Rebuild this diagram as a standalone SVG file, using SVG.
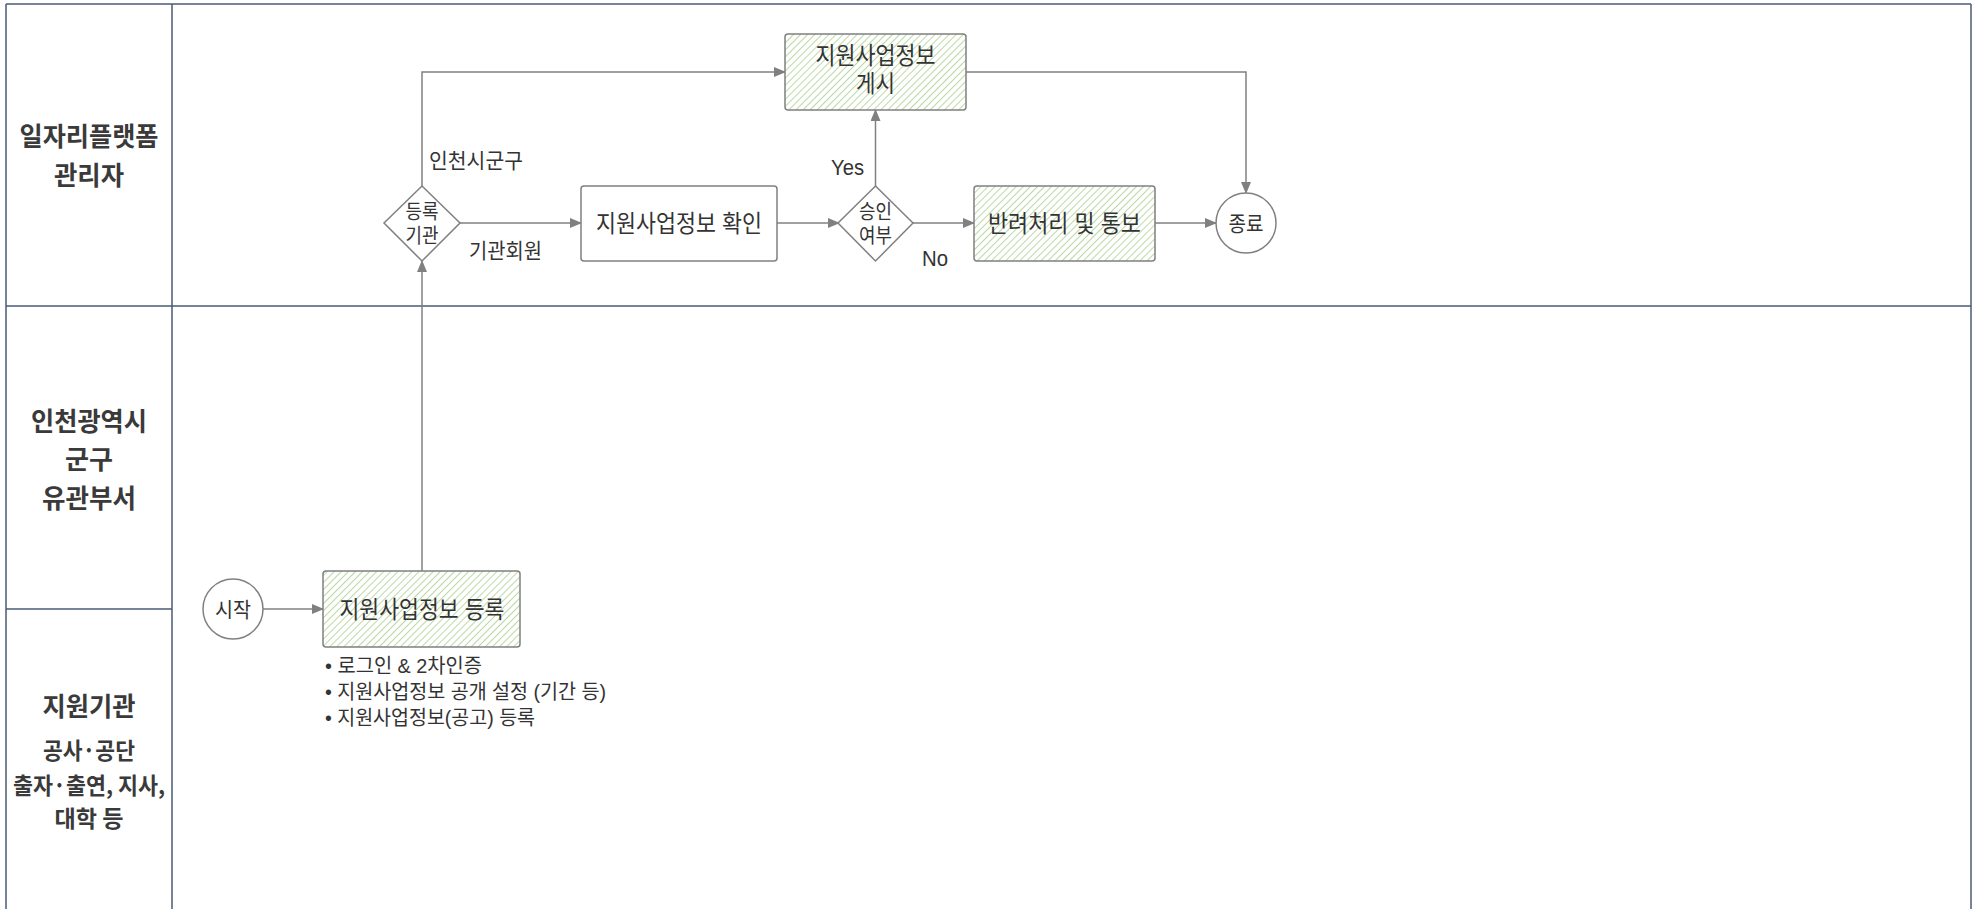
<svg xmlns="http://www.w3.org/2000/svg" width="1977" height="909" viewBox="0 0 1977 909">
<style>
.lane{stroke:#4a5a74;stroke-width:1.5;fill:none}
.hdr{font-family:"Noto Sans CJK KR","Noto Sans",sans-serif;font-weight:bold;fill:#3a3a3a;text-anchor:middle}
.box{stroke:#808080;stroke-width:1.5}
.plain{fill:#ffffff}
.green{fill:url(#hatch)}
.txt{font-family:"Liberation Sans","Noto Sans CJK KR",sans-serif;fill:#333333;text-anchor:middle}
.lbl{font-family:"Liberation Sans","Noto Sans CJK KR",sans-serif;fill:#333333}
.conn{stroke:#808080;stroke-width:1.5;fill:none}
</style>
<defs>
<pattern id="hatch" patternUnits="userSpaceOnUse" width="5" height="5" patternTransform="rotate(45)">
<rect width="5" height="5" fill="#ffffff"/>
<line x1="0" y1="0" x2="0" y2="5" stroke="#a8d08d" stroke-width="1.6"/>
</pattern>
<marker id="arr" markerUnits="userSpaceOnUse" markerWidth="12" markerHeight="10" refX="11" refY="5" orient="auto">
<path d="M0,0 L12,5 L0,10 Z" fill="#808080"/>
</marker>
</defs>
<rect width="1977" height="909" fill="#ffffff"/>
<g id="lanes">
<line class="lane" x1="6" y1="4" x2="1971" y2="4"/>
<line class="lane" x1="6" y1="4" x2="6" y2="909"/>
<line class="lane" x1="1971" y1="4" x2="1971" y2="909"/>
<line class="lane" x1="172" y1="4" x2="172" y2="909"/>
<line class="lane" x1="6" y1="306" x2="1971" y2="306"/>
<line class="lane" x1="6" y1="609" x2="172" y2="609"/>
</g>
<g id="lane-admin">
<text class="hdr" x="89" y="146" font-size="26" textLength="139" lengthAdjust="spacingAndGlyphs">일자리플랫폼</text>
<text class="hdr" x="89" y="185" font-size="26" textLength="70" lengthAdjust="spacingAndGlyphs">관리자</text>
</g>
<g id="lane-city">
<text class="hdr" x="89" y="431" font-size="26" textLength="116" lengthAdjust="spacingAndGlyphs">인천광역시</text>
<text class="hdr" x="89" y="469" font-size="26" textLength="48" lengthAdjust="spacingAndGlyphs">군구</text>
<text class="hdr" x="89" y="508" font-size="26" textLength="94" lengthAdjust="spacingAndGlyphs">유관부서</text>
</g>
<g id="lane-org">
<text class="hdr" x="89" y="716" font-size="26" textLength="93" lengthAdjust="spacingAndGlyphs">지원기관</text>
<text class="hdr" x="89" y="759" font-size="23" textLength="92" lengthAdjust="spacingAndGlyphs">공사·공단</text>
<text class="hdr" x="89" y="794" font-size="23" textLength="152" lengthAdjust="spacingAndGlyphs">출자·출연, 지사,</text>
<text class="hdr" x="89" y="827" font-size="23" textLength="69" lengthAdjust="spacingAndGlyphs">대학 등</text>
</g>
<g id="connectors">
<path class="conn" d="M263,609 L323,609" marker-end="url(#arr)"/>
<path class="conn" d="M422,571 L422,261" marker-end="url(#arr)"/>
<path class="conn" d="M422,186 L422,72 L785,72" marker-end="url(#arr)"/>
<path class="conn" d="M460,223 L581,223" marker-end="url(#arr)"/>
<path class="conn" d="M777,223 L839,223" marker-end="url(#arr)"/>
<path class="conn" d="M875.5,186 L875.5,110" marker-end="url(#arr)"/>
<path class="conn" d="M913,223 L974,223" marker-end="url(#arr)"/>
<path class="conn" d="M966,72 L1246,72 L1246,193" marker-end="url(#arr)"/>
<path class="conn" d="M1155,223 L1216,223" marker-end="url(#arr)"/>
<text class="lbl" x="429" y="168" font-size="21" textLength="94" lengthAdjust="spacingAndGlyphs">인천시군구</text>
<text class="lbl" x="469" y="258" font-size="21" textLength="73" lengthAdjust="spacingAndGlyphs">기관회원</text>
<text class="lbl" x="831" y="175" font-size="22" textLength="33" lengthAdjust="spacingAndGlyphs">Yes</text>
<text class="lbl" x="922" y="266" font-size="22" textLength="26" lengthAdjust="spacingAndGlyphs">No</text>
</g>
<g id="start">
<circle cx="233" cy="609" r="30" fill="#ffffff" stroke="#808080" stroke-width="1.5"/>
<text class="txt" x="233" y="617" font-size="21" textLength="36" lengthAdjust="spacingAndGlyphs">시작</text>
</g>
<g id="register">
<rect class="box green" x="323" y="571" width="197" height="76" rx="3"/>
<text class="txt" x="422" y="618" font-size="24" textLength="165" lengthAdjust="spacingAndGlyphs">지원사업정보 등록</text>
</g>
<g id="register-notes">
<text class="lbl" x="325" y="673" font-size="20" textLength="157" lengthAdjust="spacingAndGlyphs">• 로그인 &amp; 2차인증</text>
<text class="lbl" x="325" y="699" font-size="20" textLength="281" lengthAdjust="spacingAndGlyphs">• 지원사업정보 공개 설정 (기간 등)</text>
<text class="lbl" x="325" y="725" font-size="20" textLength="210" lengthAdjust="spacingAndGlyphs">• 지원사업정보(공고) 등록</text>
</g>
<g id="decision-org">
<polygon points="422,186 460,223 422,261 384,223" fill="#ffffff" stroke="#808080" stroke-width="1.5"/>
<text class="txt" x="422" y="219" font-size="20" textLength="33" lengthAdjust="spacingAndGlyphs">등록</text>
<text class="txt" x="422" y="243" font-size="20" textLength="33" lengthAdjust="spacingAndGlyphs">기관</text>
</g>
<g id="check">
<rect class="box plain" x="581" y="186" width="196" height="75" rx="3"/>
<text class="txt" x="679" y="232" font-size="24" textLength="166" lengthAdjust="spacingAndGlyphs">지원사업정보 확인</text>
</g>
<g id="decision-approve">
<polygon points="875.5,186 913,223 875.5,261 838,223" fill="#ffffff" stroke="#808080" stroke-width="1.5"/>
<text class="txt" x="875.5" y="219" font-size="20" textLength="33" lengthAdjust="spacingAndGlyphs">승인</text>
<text class="txt" x="875.5" y="243" font-size="20" textLength="33" lengthAdjust="spacingAndGlyphs">여부</text>
</g>
<g id="post">
<rect class="box green" x="785" y="34" width="181" height="76" rx="3"/>
<text class="txt" x="875.5" y="64" font-size="24" textLength="120" lengthAdjust="spacingAndGlyphs">지원사업정보</text>
<text class="txt" x="875.5" y="92" font-size="24" textLength="39" lengthAdjust="spacingAndGlyphs">게시</text>
</g>
<g id="reject">
<rect class="box green" x="974" y="186" width="181" height="75" rx="3"/>
<text class="txt" x="1064.5" y="232" font-size="24" textLength="153" lengthAdjust="spacingAndGlyphs">반려처리 및 통보</text>
</g>
<g id="end">
<circle cx="1246" cy="223" r="30" fill="#ffffff" stroke="#808080" stroke-width="1.5"/>
<text class="txt" x="1246" y="231" font-size="21" textLength="35" lengthAdjust="spacingAndGlyphs">종료</text>
</g>
</svg>
